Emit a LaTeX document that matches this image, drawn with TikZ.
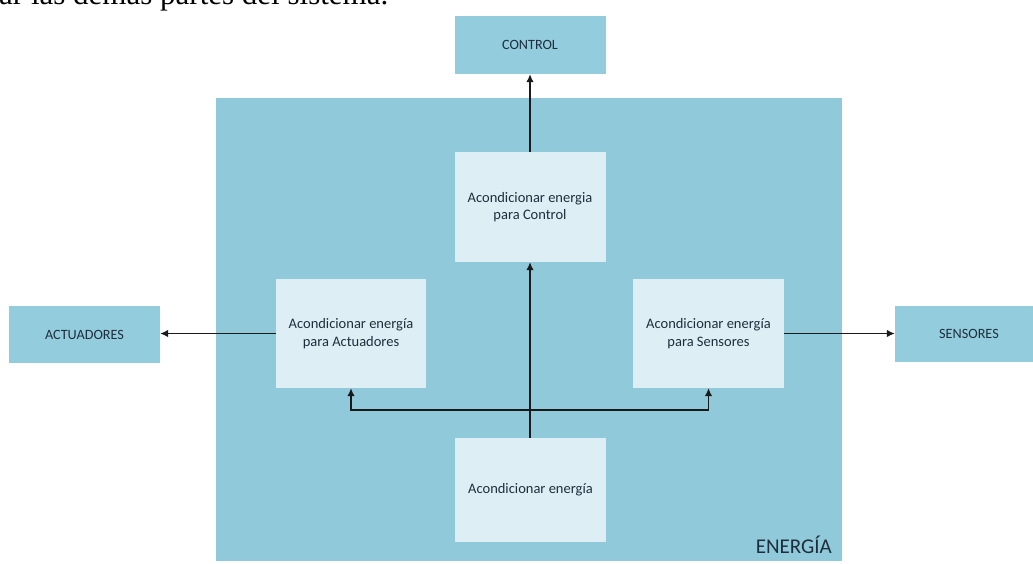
\documentclass[tikz,border=0pt]{standalone}
\usepackage{fontspec}
\setmainfont{Liberation Serif}
\newfontfamily\calibri{Carlito}
\usetikzlibrary{arrows.meta}

\definecolor{aquabox}{HTML}{93CDDD}
\definecolor{aquaframe}{HTML}{90CADA}
\definecolor{palebox}{HTML}{DDEFF4}
\definecolor{boxtext}{HTML}{1F2E3C}
\definecolor{wire}{HTML}{1A1A1A}

\tikzset{
  outerbox/.style={fill=aquabox, draw=none, inner sep=0pt,
    minimum width=151pt, minimum height=57pt,
    font=\calibri\fontsize{14.2}{17}\selectfont, text=boxtext},
  stagebox/.style={fill=palebox, draw=none, inner sep=0pt,
    minimum width=151pt, minimum height=109pt, align=center,
    font=\calibri\fontsize{14.5}{17.5}\selectfont, text=boxtext},
  flow/.style={draw=wire, line width=1.3pt,
    -{Latex[length=8pt,width=7.5pt]}},
}

\begin{document}
\begin{tikzpicture}[x=1pt, y=-1pt]
  \useasboundingbox (0,0) rectangle (1033,563);
  \clip (0,0) rectangle (1033,563);

  % running text of the page above the figure
  \node[anchor=base west, inner sep=0pt, font=\fontsize{31}{36}\selectfont]
    (para) at (-1,4) {ar las demás partes del sistema.};

  % energy subsystem frame
  \node[fill=aquaframe, draw=none, inner sep=0pt,
        minimum width=626pt, minimum height=463pt] (energia) at (529,329.5) {};
  \node[anchor=base east, inner sep=0pt, text=boxtext,
        font=\calibri\fontsize{21}{24}\selectfont] (energialbl) at (832,553) {ENERGÍA};

  % external subsystems
  \node[outerbox, minimum height=58pt] (control) at (530,45) {CONTROL};
  \node[outerbox] (actuadores) at (84.5,334.5) {ACTUADORES};
  \node[outerbox, minimum width=148pt, minimum height=56pt] (sensores) at (969,334) {SENSORES};

  % conditioning stages
  \node[stagebox, minimum height=110pt] (ectrl) at (530,207)
    {Acondicionar energia\\para Control};
  \node[stagebox, minimum width=150pt] (eact) at (351,333.5)
    {Acondicionar energía\\para Actuadores};
  \node[stagebox] (esens) at (708.5,333.5)
    {Acondicionar energía\\para Sensores};
  \node[stagebox, minimum height=104pt] (esrc) at (530.5,490)
    {Acondicionar energía};

  % power distribution
  \coordinate (split) at (530,410);
  \draw[flow] (esrc.north -| ectrl.south) -- (ectrl.south);
  \draw[flow] (split) -| (eact.south);
  \draw[flow] (split) -| (esens.south);
  \draw[flow] (ectrl.north) -- (control.south);
  \draw[flow] (eact.west) -- (eact.west -| actuadores.east);
  \draw[flow] (esens.east) -- (esens.east -| sensores.west);
\end{tikzpicture}
\end{document}
